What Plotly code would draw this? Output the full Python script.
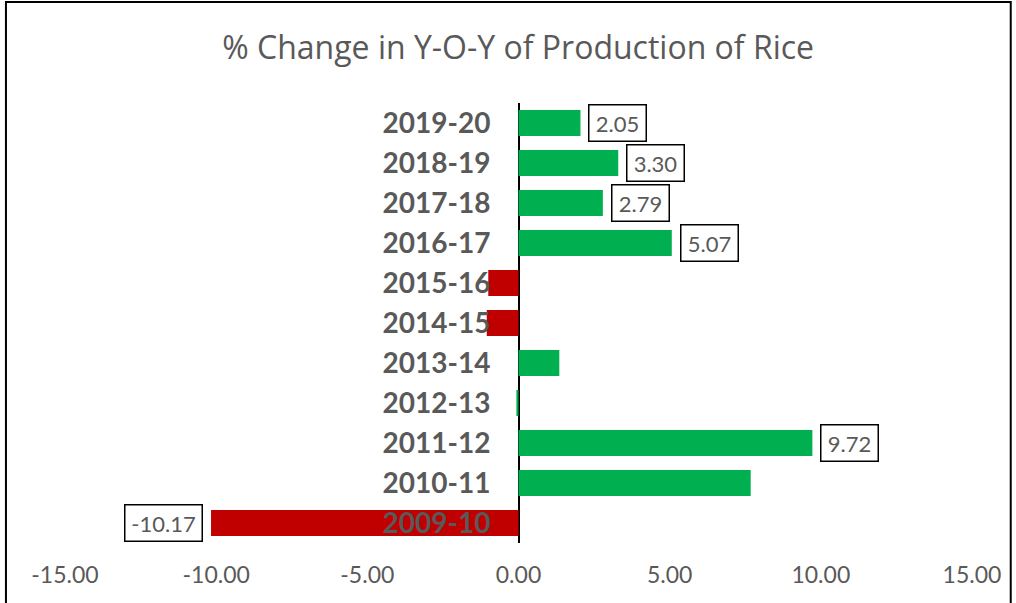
import plotly.graph_objects as go

categories = ["2009-10", "2010-11", "2011-12", "2012-13", "2013-14", "2014-15",
              "2015-16", "2016-17", "2017-18", "2018-19", "2019-20"]
values = [-10.17, 7.68, 9.72, -0.07, 1.35, -1.05, -1.00, 5.07, 2.79, 3.30, 2.05]
labeled = ["2009-10", "2011-12", "2016-17", "2017-18", "2018-19", "2019-20"]
x_ticks = [-15, -10, -5, 0, 5, 10, 15]
title_text = "% Change in Y-O-Y of Production of Rice"

GREEN = "#00B050"
RED = "#C00000"
GRAY = "#595959"
FONT = "Lato, sans-serif"
TITLE_FONT = "'Open Sans', sans-serif"

# bar colours as shown in the original (the near-zero 2012-13 bar is green)
colors = [RED, GREEN, GREEN, GREEN, GREEN, RED, RED, GREEN, GREEN, GREEN, GREEN]

fig = go.Figure()
fig.add_trace(go.Bar(
    y=categories, x=values, orientation="h",
    marker=dict(color=colors, line=dict(width=0)),
    hoverinfo="skip",
))

annotations = []
for c, v in zip(categories, values):
    if c in labeled:
        txt = f"{v:.2f}"
        annotations.append(dict(
            x=v, y=c, xref="x", yref="y",
            text=txt, showarrow=False,
            xanchor="left" if v >= 0 else "right",
            xshift=8 if v >= 0 else -8,
            font=dict(family=FONT, size=22, color=GRAY),
            bgcolor="white", bordercolor="black", borderwidth=1.5,
            borderpad=5, width=10 * len(txt) + 6, height=25,
        ))

fig.update_layout(
    width=1016, height=603,
    margin=dict(l=65, r=44, t=103, b=60),
    paper_bgcolor="white", plot_bgcolor="white",
    showlegend=False,
    bargap=0.35,
    title=dict(text=title_text, x=0.51, xanchor="center", y=1 - 48 / 603, yanchor="middle",
               font=dict(family=TITLE_FONT, size=32, color=GRAY)),
    xaxis=dict(range=[-15, 15], tickmode="array", tickvals=x_ticks,
               ticktext=[f"{t:.2f}" for t in x_ticks],
               showgrid=False, showline=False, ticks="",
               zeroline=True, zerolinecolor="black", zerolinewidth=2,
               tickfont=dict(family=FONT, size=23, color=GRAY),
               ticklabelstandoff=16, fixedrange=True),
    yaxis=dict(type="category", categoryorder="array", categoryarray=categories,
               anchor="free", position=0.5, side="left",
               showgrid=False, showline=False, ticks="", zeroline=False,
               tickfont=dict(family=FONT, size=28, color=GRAY, weight="bold"),
               ticklabelstandoff=28, layer="above traces", fixedrange=True),
    annotations=annotations,
    shapes=[dict(type="rect", xref="paper", yref="paper",
                 x0=-0.0651, x1=1.0427, y0=-0.2, y1=1.2295,
                 line=dict(color="black", width=2), fillcolor="rgba(0,0,0,0)",
                 layer="below")],
)

fig.write_html("out.html", config={"displayModeBar": False},
               post_script="document.body.style.margin='0';document.body.style.overflow='hidden';")
